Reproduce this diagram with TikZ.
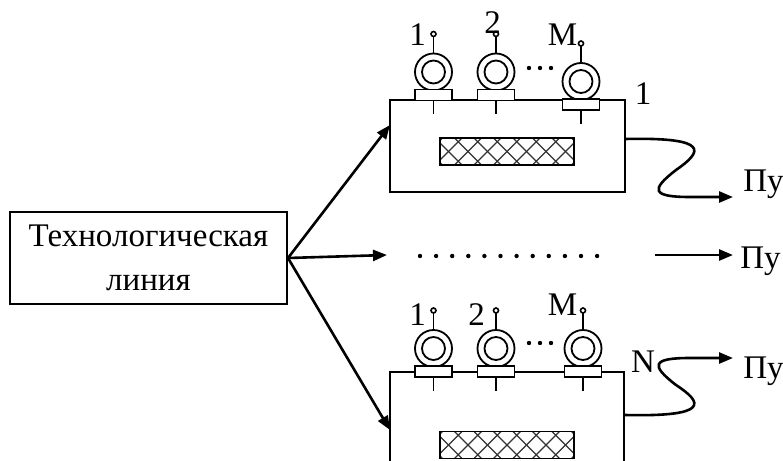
\documentclass[tikz,border=0pt]{standalone}
\usepackage{fontspec}
\setmainfont{Liberation Serif}
\usetikzlibrary{arrows.meta}

\tikzset{
  blok/.style={draw,line width=1pt,inner sep=0pt},
  strelka/.style={line width=1.3pt,-{Triangle[length=7pt,width=5.5pt]}},
  volna/.style={line width=1.3pt,-{Triangle[length=7pt,width=5.5pt]}},
  metka/.style={anchor=base,inner sep=0pt},
  % датчик: начало координат в центре опорной планки
  datchik/.pic={
    \draw[line width=0.8pt] (0,5) -- (0,19);
    \draw[line width=0.8pt] (0,-41.5) -- (0,-58.5);
    \draw[line width=0.8pt] (0,-61) circle[radius=2.5];
    \draw[line width=0.9pt] (0,-23) circle[radius=18.5];
    \draw[line width=0.9pt] (0,-23) circle[radius=11.5];
    \draw[line width=0.8pt,fill=white] (-18.5,-5.5) rectangle (18.5,5.5);
  },
  % сетка (нагреватель) внутри станка
  setka/.pic={
    \begin{scope}
      \clip (-67,-13.5) rectangle (67,13.5);
      \foreach \i in {-5,...,5} {
        \draw[line width=0.6pt,black!80] (\i*19.5-13.5,13.5) -- ++(27,-27);
        \draw[line width=0.6pt,black!80] (\i*19.5-13.5,-13.5) -- ++(27,27);
      }
    \end{scope}
    \draw[line width=0.9pt] (-67,-13.5) rectangle (67,13.5);
  },
  tochka/.pic={\fill (0,0) circle[radius=2.2];}
}

\begin{document}
\begin{tikzpicture}[x=0.5pt,y=-0.5pt,font=\fontsize{16.5}{18}\selectfont]
\useasboundingbox (0,0) rectangle (783,461);

% технологическая линия
\node[blok,minimum width=138.5pt,minimum height=46pt,align=center,
      font=\fontsize{16.5}{22}\selectfont] (liniya) at (148.5,258)
      {Технологическая\\линия};

% станки 1 и N
\node[blok,minimum width=117.5pt,minimum height=46pt] (stanok1) at (507.5,146) {};
\node[blok,minimum width=117pt,minimum height=46pt] (stanokN) at (507,418) {};
\pic at (507,151.5) {setka};
\pic at (507,445) {setka};

% датчики верхнего станка
\pic at (433.5,95) {datchik};
\pic at (496,95) {datchik};
\pic at (581,104.5) {datchik};
\node[metka] (n11) at (417.5,45) {1};
\node[metka] (n12) at (492.5,33) {2};
\node[metka] (n1m) at (562.5,45) {M};
\foreach \x in {529,540,551} \pic at (\x,68) {tochka};

% датчики нижнего станка
\pic at (433.5,371.5) {datchik};
\pic at (496,371.5) {datchik};
\pic at (583,371.5) {datchik};
\node[metka] (n21) at (417.5,325) {1};
\node[metka] (n22) at (476.5,325) {2};
\node[metka] (n2m) at (562.5,315) {M};
\foreach \x in {529,540,551} \pic at (\x,343) {tochka};

% номера станков
\node[metka] (nom1) at (643,104) {1};
\node[metka] (nomN) at (643,372) {N};

% ряд точек между станками
\foreach \i in {0,...,11} \pic at (420+\i*16.1,256) {tochka};

% связи от линии к станкам
\coordinate (vh1) at (390,125);
\coordinate (vhN) at (390,430);
\coordinate (vhS) at (387,255);
\draw[strelka] (liniya.east) -- (vh1);
\draw[strelka] (liniya.east) -- (vhS);
\draw[strelka] (liniya.east) -- (vhN);

% выходы Пу
\coordinate (vyh1) at (625,139);
\coordinate (vyhN) at (625,415);
\coordinate (konec1) at (733,197);
\coordinate (konecS) at (733,255);
\coordinate (nachS) at (655,255);
\coordinate (konecN) at (733,358);
\draw[volna] (vyh1) .. controls (712,137) and (702,152) .. (676,170)
  .. controls (650,190) and (652,197) .. (690,197) -- (konec1);
\draw[strelka] (nachS) -- (konecS);
\draw[volna] (vyhN) .. controls (712,417) and (702,402) .. (676,385)
  .. controls (650,365) and (652,358) .. (690,358) -- (konecN);
\node[metka,anchor=base west] (py1) at (743,191) {Пу};
\node[metka,anchor=base west] (pyS) at (740,268) {Пу};
\node[metka,anchor=base west] (pyN) at (743,378) {Пу};
\end{tikzpicture}
\end{document}
